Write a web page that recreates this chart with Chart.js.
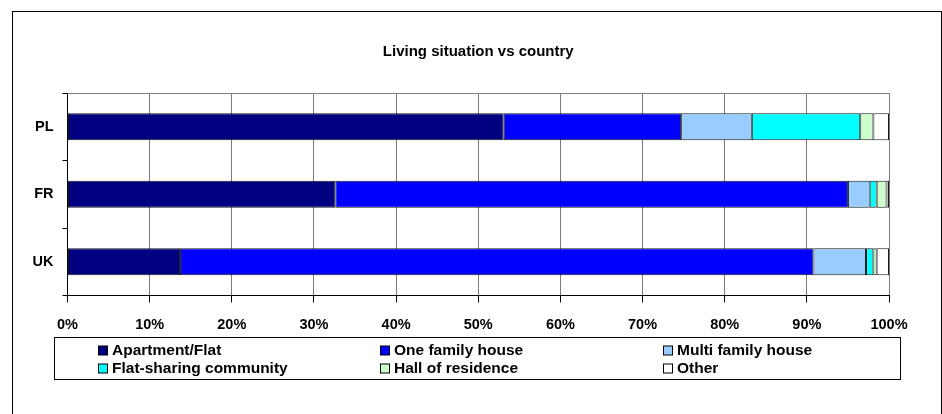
<!DOCTYPE html>
<html>
<head>
<meta charset="utf-8">
<script src="https://cdn.jsdelivr.net/npm/chart.js@4.4.1/dist/chart.umd.min.js"></script>
<style>
    html, body { margin: 0; padding: 0; background: #fff; }
    #wrap { width: 942px; height: 414px; position: relative; }
</style>
</head>
<body>
<div id="wrap"><canvas id="livingChart"></canvas></div>
<script>
// Categories and series (percent of respondents per country)
const countries = ["PL", "FR", "UK"];
const seriesNames = ["Apartment/Flat", "One family house", "Multi family house",
    "Flat-sharing community", "Hall of residence", "Other"];
const apartmentFlat = [53.1, 32.6, 13.7];
const oneFamilyHouse = [21.6, 62.4, 77.1];
const multiFamilyHouse = [8.6, 2.65, 6.4];
const flatSharing = [13.2, 0.85, 0.9];
const hallOfResidence = [1.6, 1.2, 0.4];
const other = [1.9, 0.3, 1.5];
const xTicks = [0, 10, 20, 30, 40, 50, 60, 70, 80, 90, 100];

const seriesValues = [apartmentFlat, oneFamilyHouse, multiFamilyHouse, flatSharing, hallOfResidence, other];
const seriesColors = ["#000080", "#0000FF", "#99CCFF", "#00FFFF", "#CCFFCC", "#FFFFFF"];

Chart.defaults.font.family = "'Liberation Sans', Arial, sans-serif";
Chart.defaults.color = "#000";

// frame, plot-area top edge and the boxed legend
const framePlugin = {
    id: "excelFrame",
    beforeDraw(chart) {
        const ctx = chart.ctx;
        ctx.save();
        ctx.fillStyle = "#fff";
        ctx.fillRect(0, 0, chart.width, chart.height);
        ctx.restore();
    },
    afterDraw(chart) {
        const ctx = chart.ctx;
        const area = chart.chartArea;
        ctx.save();
        ctx.lineWidth = 1;
        ctx.strokeStyle = "#808080";
        ctx.beginPath();
        ctx.moveTo(area.left, Math.round(area.top) + 0.5);
        ctx.lineTo(area.right, Math.round(area.top) + 0.5);
        ctx.stroke();

        ctx.strokeStyle = "#000";
        ctx.strokeRect(12.5, 11.5, 929, 420);

        // legend box
        ctx.strokeRect(54.5, 337.5, 846, 42);
        const colX = [98, 380, 663];
        const rowY = [350.5, 368.5];
        ctx.font = "bold 15.5px 'Liberation Sans', Arial, sans-serif";
        ctx.textBaseline = "middle";
        ctx.textAlign = "left";
        chart.data.datasets.forEach((ds, i) => {
            const x = colX[i % 3];
            const y = rowY[Math.floor(i / 3)];
            ctx.fillStyle = ds.backgroundColor;
            ctx.fillRect(x + 0.5, y - 4.5, 9, 9);
            ctx.strokeStyle = "#000";
            ctx.strokeRect(x + 0.5, y - 4.5, 9, 9);
            ctx.fillStyle = "#000";
            ctx.fillText(ds.label, x + 14, y + 0.5);
        });
        ctx.restore();
    },
};

const ctx = document.getElementById("livingChart").getContext("2d");
new Chart(ctx, {
    type: "bar",
    data: {
        labels: countries,
        datasets: seriesNames.map((name, i) => ({
            label: name,
            data: seriesValues[i],
            backgroundColor: seriesColors[i],
            borderColor: "#1a1a1a",
            borderWidth: 1,
            borderSkipped: false,
            categoryPercentage: 0.8,
            barPercentage: 0.5,
        })),
    },
    options: {
        indexAxis: "y",
        responsive: true,
        maintainAspectRatio: false,
        animation: false,
        layout: {
            padding: { left: 12.5, right: 53, top: 11, bottom: 78.5 },
        },
        plugins: {
            legend: { display: false },
            tooltip: { enabled: false },
            title: {
                display: true,
                text: "Living situation vs country",
                fullSize: false,
                color: "#000",
                font: { size: 15, weight: "bold" },
                padding: { top: 32, bottom: 32 },
            },
        },
        scales: {
            x: {
                stacked: true,
                min: 0,
                max: 100,
                afterBuildTicks: (scale) => {
                    scale.ticks = xTicks.map((v) => ({ value: v }));
                },
                afterFit: (scale) => {
                    scale.height = 40;
                },
                ticks: {
                    color: "#000",
                    padding: 14,
                    maxRotation: 0,
                    font: { size: 14.5, weight: "bold" },
                    callback: (value) => value + "%",
                },
                grid: {
                    color: "#7a7a7a",
                    tickColor: "#000",
                    tickLength: 7,
                },
                border: { display: true, color: "#000" },
            },
            y: {
                stacked: true,
                afterFit: (scale) => {
                    scale.width = 55;
                },
                ticks: {
                    color: "#000",
                    padding: 9,
                    font: { size: 14.5, weight: "bold" },
                },
                grid: {
                    drawOnChartArea: false,
                    tickColor: "#000",
                    tickLength: 5,
                },
                border: { display: true, color: "#000" },
            },
        },
    },
    plugins: [framePlugin],
});
</script>
</body>
</html>
